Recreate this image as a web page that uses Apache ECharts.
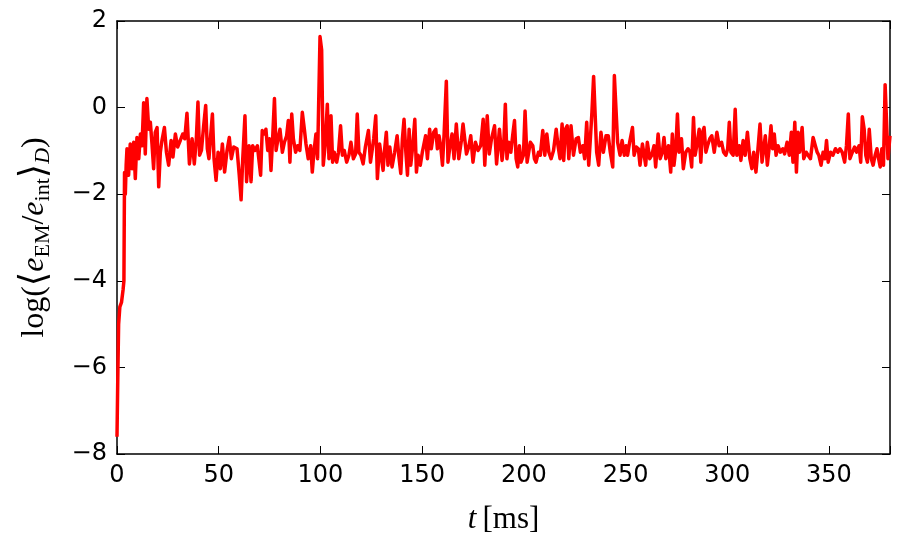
<!DOCTYPE html>
<html><head><meta charset="utf-8">
<script src="https://cdn.jsdelivr.net/npm/echarts@6/dist/echarts.min.js"></script>
<style>html,body{margin:0;padding:0;background:#fff}#c{width:900px;height:540px}</style>
</head><body><div id="c"></div>
<script>
const times = [
0,0.4,0.8,1.4,2.2,3.0,3.4,3.7,4.1,4.5,4.9,5.7,6.5,7.4,8.2,9.0,9.8,10.7,11.5,12.3,
13.1,13.9,14.7,15.6,16.4,17.2,18.0,18.8,19.7,20.5,21.3,22.1,23.3,24.3,25.4,26.6,27.5,28.7,29.8,31.1,
32.3,33.3,34.4,35.6,36.9,38.0,39.0,39.8,40.6,41.5,42.6,43.6,44.4,45.2,46.1,46.9,47.7,48.7,49.7,50.8,
51.8,52.9,54.1,55.2,56.2,57.4,59.0,60.1,61.0,61.8,62.9,63.7,64.9,65.9,66.7,67.8,69.0,69.8,70.6,71.4,
72.4,73.2,74.1,74.9,75.7,76.5,77.4,78.2,79.0,80.1,81.3,82.3,83.4,84.2,85.0,85.9,86.7,87.8,88.8,89.9,
91.1,92.1,92.9,94.0,95.2,96.0,96.8,97.8,98.6,99.8,100.6,101.4,102.3,103.4,104.2,105.2,106.0,106.8,108.0,108.9,
109.9,110.8,111.7,112.9,114.0,115.0,116.2,117.3,118.1,118.9,119.9,121.0,122.1,123.6,124.6,126.2,127.2,128.0,129.1,130.0,
130.8,131.6,132.4,133.2,134.1,135.2,136.5,137.7,138.5,139.5,140.3,141.1,142.0,142.8,143.6,144.4,145.4,146.4,147.2,148.0,
149.1,150.1,150.9,151.7,152.6,153.7,154.5,155.7,156.7,157.5,158.3,159.1,160.0,160.8,161.9,162.7,163.5,164.7,165.7,166.8,
168.0,169.3,170.1,170.9,171.8,172.9,173.9,175.0,176.2,177.5,178.8,180.0,180.8,182.0,183.0,184.1,185.6,186.6,188.0,189.3,
190.1,190.9,191.7,192.6,193.6,194.5,195.4,196.2,197.0,197.8,198.6,199.8,200.6,201.6,202.4,203.2,204.4,205.2,206.0,207.2,
208.1,209.3,210.3,211.3,212.3,213.4,214.6,215.9,216.8,217.8,218.8,219.6,220.4,221.3,222.1,223.2,224.4,225.7,226.8,227.8,
229.0,229.9,230.9,231.9,232.7,233.5,234.3,235.0,235.8,236.8,237.9,239.1,240.4,241.5,242.5,243.7,244.5,245.3,246.1,247.3,
248.3,249.4,250.3,251.0,252.0,253.4,254.2,255.3,256.3,257.1,258.3,259.1,259.9,260.7,261.9,262.9,264.0,264.8,266.0,267.0,
268.1,268.9,269.8,271.1,272.2,273.0,273.8,274.7,275.5,276.3,277.5,278.4,279.6,280.7,281.7,282.5,283.4,284.2,285.0,286.2,
287.0,287.8,288.6,289.5,290.3,291.4,292.4,293.6,294.9,296.0,297.2,298.2,299.3,300.2,301.0,301.8,302.9,303.9,304.7,305.9,
306.7,307.8,308.8,309.9,311.1,312.1,313.0,314.1,315.1,316.1,317.1,317.9,318.7,319.7,320.7,321.5,322.3,323.1,324.0,325.0,
326.1,327.3,328.2,329.4,330.5,331.5,332.3,333.2,334.0,334.8,335.6,336.8,337.6,338.8,339.7,340.9,342.2,343.3,344.2,345.0,
346.1,347.1,348.0,348.8,349.6,350.8,351.9,353.2,354.4,355.4,356.5,357.7,358.6,359.5,360.3,361.5,362.6,363.6,364.8,365.6,
366.4,367.3,368.1,368.9,369.8,370.8,371.7,372.7,373.6,374.4,375.2,376.0,376.8,377.6,378.3,379.0,380.0
];
const values = [
-7.6,-6.2,-5.0,-4.6,-4.5,-4.2,-4.0,-1.5,-2.0,-1.33,-0.95,-1.56,-0.84,-1.41,-0.8,-1.64,-0.69,-1.18,-0.61,-0.88,
0.11,-1.07,0.21,-0.5,-0.34,-0.84,-1.41,-0.57,-0.46,-1.83,-1.03,-0.76,-0.46,-1.03,-1.33,-0.76,-1.14,-0.61,-0.91,-0.76,
-0.61,-0.72,-0.13,-1.3,-0.72,-1.3,-0.72,0.13,-1.1,-0.99,-0.42,0.05,-0.95,-1.18,-0.61,-0.15,-1.18,-1.68,-1.03,-1.41,
-0.84,-1.49,-0.99,-0.69,-1.18,-0.91,-0.95,-1.56,-2.13,-1.2,-0.19,-1.71,-0.88,-1.71,-0.88,-0.99,-0.88,-0.84,-1.56,-0.53,
-0.61,-0.5,-0.99,-0.72,-1.45,-0.72,0.21,-0.99,-0.76,-0.5,-1.03,-0.8,-0.65,-0.3,-1.26,-0.15,-0.72,-1.03,-0.88,-0.99,
-0.11,-0.5,-0.84,-1.18,-0.88,-1.49,-1.03,-0.61,-1.18,1.64,1.33,-1.33,-0.88,0.08,-1.18,-0.19,-1.26,-1.03,-1.26,-1.03,
-0.42,-1.1,-0.99,-1.26,-1.1,-0.8,-1.18,-1.07,-0.15,-1.03,-1.1,-1.3,-0.91,-0.53,-1.26,-0.72,-0.19,-1.64,-0.84,-0.88,
-1.45,-0.95,-0.57,-1.33,-0.91,-1.37,-1.03,-0.65,-1.1,-1.52,-0.72,-0.27,-1.03,-1.56,-0.5,-1.33,-0.88,-0.27,-1.49,-1.1,
-1.33,-1.03,-0.84,-0.65,-1.18,-0.5,-0.95,-0.57,-0.5,-0.95,-0.65,-0.88,-1.33,-0.61,0.61,-1.26,-0.95,-0.61,-1.18,-0.38,
-1.18,-0.76,-0.38,-0.38,-1.07,-0.91,-0.65,-1.26,-0.8,-0.99,-0.88,-0.27,-1.33,-0.19,-1.07,-0.72,-0.42,-1.3,-0.5,-1.22,
-0.88,0.08,-1.18,-0.8,-1.03,-0.65,-0.3,-1.18,-1.37,-0.88,-1.26,-1.1,-0.08,-1.26,-1.03,-0.8,-0.88,-1.18,-1.26,-1.03,
-1.1,-0.53,-1.1,-0.61,-1.03,-1.18,-0.99,-0.5,-0.88,-1.18,-0.38,-1.22,-0.5,-0.42,-1.18,-0.42,-1.1,-0.72,-0.69,-1.03,
-0.88,-1.18,-0.34,-1.33,-0.72,-0.08,0.72,0.72,-1.03,-1.33,-0.57,-1.03,-0.65,-0.65,-1.03,-1.37,0.74,0.72,-0.8,-1.1,
-0.76,-1.1,-0.88,-1.1,-0.8,-0.46,-1.1,-0.91,-0.95,-1.33,-0.84,-0.8,-1.33,-0.8,-1.18,-1.1,-0.88,-1.37,-0.61,-1.18,
-1.03,-0.69,-1.18,-0.88,-1.49,-0.61,-1.33,-0.95,-0.15,-1.03,-0.72,-1.41,-1.03,-0.95,-1.03,-1.37,-0.23,-1.1,-0.88,-0.5,
-1.26,-0.57,-0.46,-1.03,-0.88,-0.72,-0.65,-1.03,-0.57,-0.88,-0.8,-1.03,-1.1,-0.95,-0.34,-1.03,-1.1,-0.04,-1.1,-0.88,
-1.22,-0.76,-1.1,-0.57,-1.18,-1.41,-1.03,-1.49,-0.95,-0.38,-1.26,-0.95,-0.65,-1.33,-0.88,-0.42,-0.95,-0.61,-1.1,-0.88,
-1.03,-0.95,-1.07,-0.8,-1.1,-0.57,-1.26,-0.34,-1.49,-0.57,-1.03,-0.46,-1.18,-1.03,-1.1,-1.18,-0.69,-0.88,-1.03,-1.1,
-1.33,-1.03,-1.18,-0.76,-1.26,-1.03,-1.1,-0.95,-1.03,-0.95,-1.03,-1.26,-0.88,-0.15,-1.18,-1.03,-0.91,-1.03,-0.88,-1.26,
-0.21,-0.5,-1.1,-1.26,-0.5,-1.18,-1.33,-1.1,-0.95,-1.18,-1.37,-0.95,-1.33,0.53,0.5,-1.18,-0.65
];
const xTicks = [0, 50, 100, 150, 200, 250, 300, 350];
const yTicks = [-8, -6, -4, -2, 0, 2];

const X_MIN = 0, X_MAX = 380, X_STEP = 50;
const Y_MIN = -8, Y_MAX = 2, Y_STEP = 2;

const seriesData = times.map((t, i) => [t, values[i]]);
const fmtY = v => (yTicks.indexOf(v) < 0 ? '' : (v < 0 ? '\u2212' + Math.abs(v) : String(v)));
const fmtX = v => (xTicks.indexOf(v) >= 0 ? String(v) : '');

const chart = echarts.init(document.getElementById('c'), null, { renderer: 'canvas' });
const tickStyle = { inside: true, length: 8, lineStyle: { color: '#000', width: 1 } };
const lineStyle = { show: true, onZero: false, lineStyle: { color: '#000', width: 1.5 } };
const labelFont = { fontFamily: 'DejaVu Sans', fontSize: 24, color: '#000' };
const SERIF = 'Liberation Serif';

chart.setOption({
  animation: false,
  backgroundColor: '#fff',
  grid: { left: 117, right: 10, top: 21, bottom: 82, containLabel: false },
  xAxis: [
    {
      type: 'value', min: X_MIN, max: X_MAX, interval: X_STEP, position: 'bottom',
      axisLine: lineStyle, axisTick: tickStyle, splitLine: { show: false },
      axisLabel: Object.assign({ margin: 10, formatter: fmtX }, labelFont),
      name: '{i|t}{n|\u2009[ms]}', nameLocation: 'middle', nameGap: 50,
      nameTextStyle: {
        rich: {
          i: { fontFamily: SERIF, fontStyle: 'italic', fontSize: 31, color: '#000' },
          n: { fontFamily: SERIF, fontSize: 31, color: '#000' }
        }
      }
    },
    {
      type: 'value', min: X_MIN, max: X_MAX, interval: X_STEP, position: 'top',
      axisLine: lineStyle, axisTick: tickStyle, axisLabel: { show: false }, splitLine: { show: false }
    }
  ],
  yAxis: [
    {
      type: 'value', min: Y_MIN, max: Y_MAX, interval: Y_STEP, position: 'left',
      axisLine: lineStyle, axisTick: tickStyle, splitLine: { show: false },
      axisLabel: Object.assign({ margin: 10, formatter: fmtY }, labelFont),
      name: '{n|log(}{b|\u27E8}{i|e}{s|EM}{n|/}{i|e}{s|int}{b|\u27E9}{si|D}{n|)}',
      nameLocation: 'middle', nameGap: 63, nameRotate: 90,
      nameTextStyle: {
        rich: {
          n: { fontFamily: SERIF, fontSize: 32, color: '#000', lineHeight: 38, verticalAlign: 'middle' },
          b: { fontFamily: 'DejaVu Serif', fontSize: 37, color: '#000', lineHeight: 38, verticalAlign: 'middle' },
          i: { fontFamily: SERIF, fontStyle: 'italic', fontSize: 32, color: '#000', lineHeight: 38, verticalAlign: 'middle' },
          s: { fontFamily: SERIF, fontSize: 22, color: '#000', lineHeight: 38, verticalAlign: 'bottom' },
          si: { fontFamily: SERIF, fontStyle: 'italic', fontSize: 22, color: '#000', lineHeight: 38, verticalAlign: 'bottom' }
        }
      }
    },
    {
      type: 'value', min: Y_MIN, max: Y_MAX, interval: Y_STEP, position: 'right',
      axisLine: lineStyle, axisTick: tickStyle, axisLabel: { show: false }, splitLine: { show: false }
    }
  ],
  series: [{
    type: 'line', xAxisIndex: 0, yAxisIndex: 0, data: seriesData,
    showSymbol: false, symbol: 'none', clip: true,
    lineStyle: { color: '#ff0000', width: 3.5, join: 'round' }
  }]
});
</script>
</body></html>
